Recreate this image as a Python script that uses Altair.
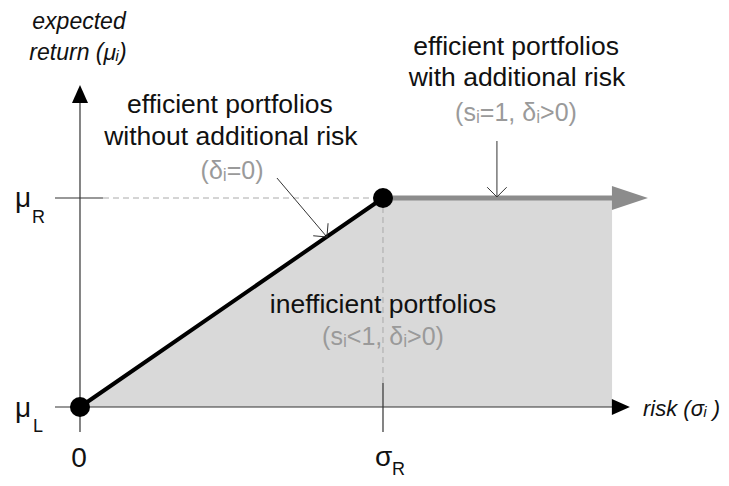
import altair as alt
import pandas as pd

# Conceptual units: sigma_R = 1, mu_L = 0, mu_R = 1
sigma_R = 1.0
mu_L = 0.0
mu_R = 1.0
sigma_end = 1.756          # right end of shaded region / grey frontier
arrow_tip_x = 1.815        # centre of grey frontier arrowhead

x_dom = [-0.2376, 2.1155]
y_dom = [-0.3397, 1.9091]

# frontier
front_x = [0.0, sigma_R, sigma_end]
front_y = [mu_L, mu_R, mu_R]

# axis and guide segments (x, y, x2, y2)
axis_seg = [
    [-0.0825, mu_L, 1.766, mu_L],      # x axis
    [0.0, -0.1196, 0.0, 1.469],        # y axis
    [-0.0825, mu_R, 0.0759, mu_R],     # mu_R tick
    [sigma_R, 0.1148, sigma_R, -0.1196],  # sigma_R tick
]
dash_seg = [
    [0.0759, mu_R, sigma_R, mu_R],
    [sigma_R, 0.1148, sigma_R, mu_R],
]
annot_seg = [
    [0.650, 1.0957, 0.815, 0.8134],
    [1.376, 1.2727, 1.376, 1.005],
]

black_labels = ["efficient portfolios", "without additional risk",
                "efficient portfolios", "with additional risk",
                "inefficient portfolios"]
black_x = [0.495, 0.498, 1.439, 1.442, 1.0]
black_y = [1.445, 1.292, 1.722, 1.574, 0.488]

grey_labels = ["(δᵢ=0)", "(sᵢ=1, δᵢ>0)", "(sᵢ<1, δᵢ>0)"]
grey_x = [0.502, 1.439, 1.0]
grey_y = [1.129, 1.407, 0.335]

ylab_lines = ["expected", "return (μᵢ)"]
ylab_x = [-0.0033, -0.0066]
ylab_y = [1.842, 1.694]

sym_big = ["μ", "μ", "σ"]
sym_big_x = [-0.2145, -0.2145, 0.9736]
sym_big_y = [0.957, -0.0478, -0.282]
sym_sub = ["R", "L", "R"]
sym_sub_x = [-0.1584, -0.1551, 1.0297]
sym_sub_y = [0.880, -0.1196, -0.326]

xs = alt.Scale(domain=x_dom, nice=False, zero=False)
ys = alt.Scale(domain=y_dom, nice=False, zero=False)


def X(f):
    return alt.X(f, type="quantitative", scale=xs, axis=None)


def Y(f):
    return alt.Y(f, type="quantitative", scale=ys, axis=None)


front = pd.DataFrame({"x": front_x, "y": front_y, "y0": [mu_L] * 3})
area = alt.Chart(front).mark_area(color="#d9d9d9", opacity=1).encode(
    x=X("x"), y=Y("y"), y2="y0")

seg_cols = ["x", "y", "x2", "y2"]
dashes = alt.Chart(pd.DataFrame(dash_seg, columns=seg_cols)).mark_rule(
    color="#aaaaaa", strokeWidth=1, strokeDash=[6, 4]).encode(
    x=X("x"), y=Y("y"), x2="x2", y2="y2")
axes = alt.Chart(pd.DataFrame(axis_seg, columns=seg_cols)).mark_rule(
    color="#333333", strokeWidth=1.2).encode(
    x=X("x"), y=Y("y"), x2="x2", y2="y2")
annots = alt.Chart(pd.DataFrame(annot_seg, columns=seg_cols)).mark_rule(
    color="#333333", strokeWidth=1).encode(
    x=X("x"), y=Y("y"), x2="x2", y2="y2")

grey_line = alt.Chart(front.iloc[1:]).mark_line(
    color="#8c8c8c", strokeWidth=5).encode(x=X("x"), y=Y("y"))
black_line = alt.Chart(front.iloc[:2]).mark_line(
    color="black", strokeWidth=4, strokeCap="round").encode(x=X("x"), y=Y("y"))

dots = alt.Chart(pd.DataFrame({"x": [0.0, sigma_R], "y": [mu_L, mu_R]})).mark_point(
    shape="circle", filled=True, color="black", opacity=1, size=400).encode(
    x=X("x"), y=Y("y"))

grey_head = alt.Chart(pd.DataFrame({"x": [arrow_tip_x], "y": [mu_R]})).mark_point(
    shape="M-1,-0.667L1,0L-1,0.667Z", filled=True, color="#8c8c8c", opacity=1,
    size=1296, strokeWidth=0).encode(x=X("x"), y=Y("y"))

xhead = alt.Chart(pd.DataFrame({"x": [1.785], "y": [mu_L]})).mark_point(
    shape="M-1,-0.89L1,0L-1,0.89Z", filled=True, color="black", opacity=1,
    size=324, strokeWidth=0).encode(x=X("x"), y=Y("y"))
yhead = alt.Chart(pd.DataFrame({"x": [0.0], "y": [1.498]})).mark_point(
    shape="M-0.89,1L0,-1L0.89,1Z", filled=True, color="black", opacity=1,
    size=324, strokeWidth=0).encode(x=X("x"), y=Y("y"))

open_head = "M-1,-1L0,0L1,-1"
head1 = alt.Chart(pd.DataFrame({"x": [0.815], "y": [0.8134]})).mark_point(
    shape=open_head, filled=False, color="#333333", opacity=1, strokeWidth=1,
    size=380, angle=319.7).encode(x=X("x"), y=Y("y"))
head2 = alt.Chart(pd.DataFrame({"x": [1.376], "y": [1.005]})).mark_point(
    shape=open_head, filled=False, color="#333333", opacity=1, strokeWidth=1,
    size=380).encode(x=X("x"), y=Y("y"))

FONT = "Liberation Sans"
txt_black = alt.Chart(pd.DataFrame({"t": black_labels, "x": black_x, "y": black_y})).mark_text(
    font=FONT, fontSize=26.5, color="#111111", align="center", baseline="middle").encode(
    x=X("x"), y=Y("y"), text="t:N")
txt_grey = alt.Chart(pd.DataFrame({"t": grey_labels, "x": grey_x, "y": grey_y})).mark_text(
    font=FONT, fontSize=25, color="#9a9a9a", align="center", baseline="middle").encode(
    x=X("x"), y=Y("y"), text="t:N")
txt_ylab = alt.Chart(pd.DataFrame({"t": ylab_lines, "x": ylab_x, "y": ylab_y})).mark_text(
    font=FONT, fontSize=23, fontStyle="italic", color="#111111", align="center",
    baseline="middle").encode(x=X("x"), y=Y("y"), text="t:N")
txt_xlab = alt.Chart(pd.DataFrame({"t": ["risk (σᵢ )"], "x": [1.858], "y": [-0.0096]})).mark_text(
    font=FONT, fontSize=22, fontStyle="italic", color="#111111", align="left",
    baseline="middle").encode(x=X("x"), y=Y("y"), text="t:N")
txt_sym = alt.Chart(pd.DataFrame({"t": sym_big, "x": sym_big_x, "y": sym_big_y})).mark_text(
    font=FONT, fontSize=28, color="#111111", align="left", baseline="alphabetic").encode(
    x=X("x"), y=Y("y"), text="t:N")
txt_sub = alt.Chart(pd.DataFrame({"t": sym_sub, "x": sym_sub_x, "y": sym_sub_y})).mark_text(
    font=FONT, fontSize=18, color="#111111", align="left", baseline="alphabetic").encode(
    x=X("x"), y=Y("y"), text="t:N")
txt_zero = alt.Chart(pd.DataFrame({"t": ["0"], "x": [-0.0033], "y": [-0.287]})).mark_text(
    font=FONT, fontSize=28, color="#111111", align="center", baseline="alphabetic").encode(
    x=X("x"), y=Y("y"), text="t:N")

chart = alt.layer(
    area, dashes, axes, annots, grey_line, black_line, dots, grey_head, xhead, yhead,
    head1, head2, txt_black, txt_grey, txt_ylab, txt_xlab, txt_sym, txt_sub, txt_zero
).properties(
    width=713, height=470, padding=0, autosize=alt.AutoSizeParams(type="none"),
    background="white"
).configure_view(stroke=None)

chart.save("out.html", embed_options={"renderer": "svg", "actions": False})
